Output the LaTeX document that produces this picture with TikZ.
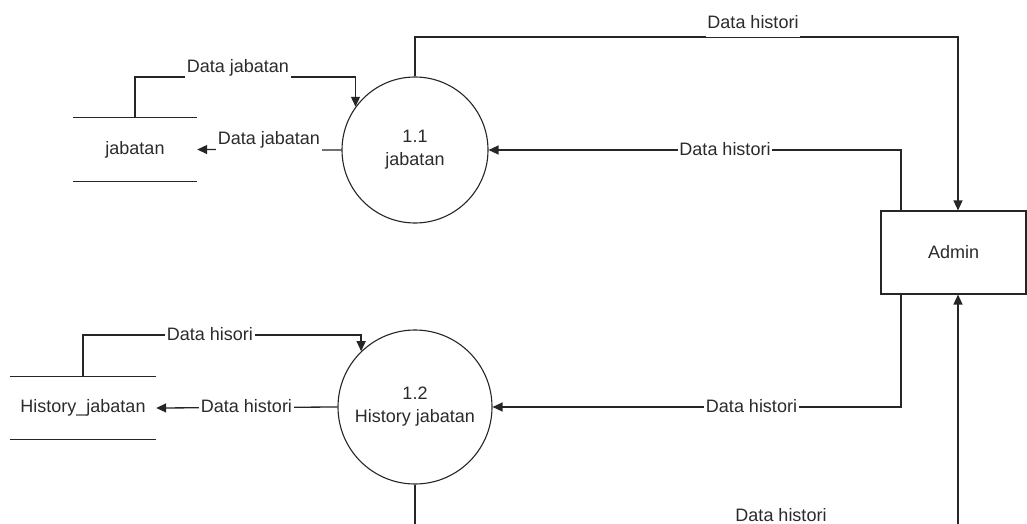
\documentclass[tikz,border=0pt]{standalone}
\usepackage{fontspec}
\setmainfont{Liberation Sans}
\usetikzlibrary{arrows.meta}
\definecolor{ink}{HTML}{262626}
\definecolor{txt}{HTML}{2b2b2b}
\begin{document}
\begin{tikzpicture}[x=1pt,y=-1pt,
  every node/.style={font=\fontsize{18}{23}\selectfont, text=txt},
  line/.style={draw=ink, line width=1.3pt},
  flow/.style={line, -{Triangle[length=10pt,width=9pt]}},
  process/.style={draw=ink, line width=1.1pt, circle, align=center, inner sep=0pt},
  store/.style={inner sep=0pt},
  entity/.style={draw=ink, line width=1.1pt, rectangle, inner sep=0pt},
  onlbl/.style={fill=white, inner xsep=1.5pt, inner ysep=1pt, anchor=base, yshift=-5pt, text depth=4pt},
  uplbl/.style={fill=white, inner xsep=1.5pt, inner ysep=5pt, anchor=base, text depth=4pt}]
\useasboundingbox (0,0) rectangle (1027,524);
\clip (0,0) rectangle (1027,524);
\fill[white] (0,0) rectangle (1027,524);

% processes
\node[process, minimum size=146pt] (p11) at (415,150) {1.1\\jabatan};
\node[process, minimum size=154pt] (p12) at (415,407) {1.2\\History jabatan};

% data stores (open rectangles)
\node[store, minimum width=124pt, minimum height=63pt] (js) at (135,149.5) {jabatan};
\draw[line] (js.north west) -- (js.north east) (js.south west) -- (js.south east);
\node[store, minimum width=146pt, minimum height=62pt] (hs) at (83,408) {History\_jabatan};
\draw[line] (hs.north west) -- (hs.north east) (hs.south west) -- (hs.south east);

% external entity
\node[entity, minimum width=145pt, minimum height=83pt] (adm) at (953.5,252.5) {Admin};

% routing columns and bends
\coordinate (cA) at (901,0);
\coordinate (cB) at (958,0);
\coordinate (tjab) at (238,77);
\coordinate (ttop) at (753,37);
\coordinate (thsr) at (210,335);
\coordinate (tbot) at (781,530);

% flows
\draw[flow] (js.north) |- (tjab) -| (p11.144);
\draw[flow] (p11.west) -- (js.east);
\draw[flow] (p11.north) |- (ttop) -| (adm.north -| cB);
\draw[flow] (adm.north -| cA) |- (p11.east);
\draw[flow] (hs.north) |- (thsr) -| (p12.134.5);
\draw[flow] (p12.west) -- (hs.east);
\draw[flow] (adm.south -| cA) |- (p12.east);
\draw[flow] (p12.south) |- (tbot) -| (adm.south -| cB);

% flow labels
\node[uplbl, yshift=4.5pt] at (tjab) {Data jabatan};
\node[uplbl, yshift=6pt] at (269,150) {Data jabatan};
\node[uplbl, yshift=8.5pt] at (ttop) {Data histori};
\node[onlbl] at (725,150) {Data histori};
\node[onlbl] at (thsr) {Data hisori};
\node[onlbl] at (246.5,407) {Data histori};
\node[onlbl] at (751.5,407) {Data histori};
\node[uplbl, yshift=9pt] at (tbot) {Data histori};
\end{tikzpicture}
\end{document}
